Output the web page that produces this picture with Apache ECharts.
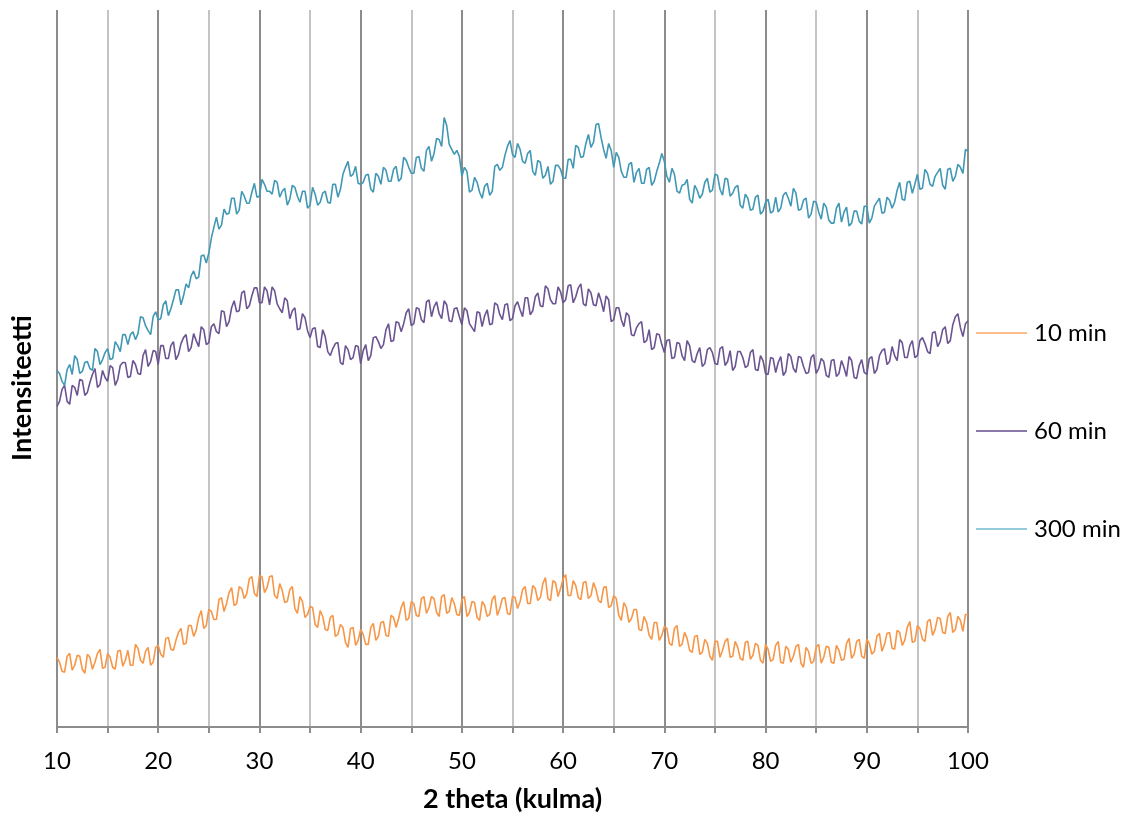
<!DOCTYPE html>
<html>
<head>
<meta charset="utf-8">
<script src="https://cdn.jsdelivr.net/npm/echarts@6/dist/echarts.min.js"></script>
<style>
  html, body { margin: 0; padding: 0; background: #fff; }
  #chart { width: 1131px; height: 818px; }
</style>
</head>
<body>
<div id="chart"></div>
<script>
// 2 theta sampled every 0.25 degrees from 10 to 100
var angleStart = 10
var angleStep = 0.25

var seriesNames = ['10 min', '60 min', '300 min']

var min10 = [
  70, 65, 56, 55, 71, 74, 57, 62, 72, 71, 58, 54, 73, 70, 58, 65, 74, 78, 59, 60, 74, 70, 60, 58, 76, 77, 61, 67, 77, 62, 62, 83, 79, 67, 64, 76, 80, 62, 65, 80,
  82, 73, 70, 89, 90, 78, 77, 87, 95, 99, 83, 84, 102, 102, 91, 97, 110, 117, 99, 102, 118, 116, 108, 108, 128, 130, 116, 124, 135, 140, 122, 124, 141, 139, 129, 134, 149, 151, 134, 131,
  152, 151, 135, 140, 151, 152, 132, 129, 144, 137, 125, 126, 138, 141, 119, 114, 131, 126, 110, 113, 121, 120, 103, 100, 117, 111, 98, 97, 110, 112, 91, 93, 103, 100, 85, 80, 99, 100, 82, 87,
  98, 93, 83, 83, 100, 104, 87, 91, 105, 106, 92, 91, 112, 110, 100, 109, 120, 126, 107, 109, 126, 124, 112, 111, 129, 131, 114, 120, 131, 129, 115, 111, 131, 133, 114, 116, 130, 124, 113, 112,
  128, 131, 111, 115, 126, 125, 110, 107, 126, 122, 111, 113, 128, 132, 112, 119, 129, 130, 114, 113, 131, 130, 119, 126, 138, 141, 124, 124, 142, 139, 127, 130, 144, 150, 129, 127, 147, 145, 131, 139,
  149, 153, 132, 132, 147, 142, 130, 128, 145, 146, 129, 132, 145, 138, 127, 125, 140, 141, 120, 122, 132, 129, 112, 107, 125, 120, 105, 109, 118, 118, 98, 97, 111, 105, 92, 88, 105, 105, 87, 92,
  101, 99, 84, 82, 99, 102, 81, 83, 95, 89, 77, 75, 91, 92, 73, 75, 88, 84, 71, 67, 86, 86, 70, 77, 86, 89, 70, 71, 86, 80, 69, 67, 85, 86, 68, 72, 84, 82, 67, 64,
  83, 78, 66, 68, 82, 86, 65, 64, 81, 78, 65, 71, 81, 83, 64, 60, 80, 76, 64, 66, 80, 83, 64, 70, 81, 80, 65, 64, 82, 77, 67, 68, 84, 89, 69, 73, 86, 88, 71, 69,
  88, 84, 73, 76, 91, 94, 76, 83, 94, 95, 79, 78, 97, 95, 82, 87, 100, 106, 85, 86, 102, 99, 88, 86, 106, 108, 92, 98, 110, 109, 95, 94, 111, 115, 95, 98, 111, 107, 96, 113,
  113
]

var min60 = [
  322, 327, 339, 343, 327, 324, 343, 341, 333, 349, 348, 333, 336, 346, 354, 360, 341, 344, 358, 351, 347, 363, 361, 343, 349, 363, 366, 366, 351, 352, 368, 364, 355, 354, 373, 379, 362, 367, 378, 377,
  364, 383, 383, 370, 370, 383, 387, 369, 374, 385, 391, 394, 377, 381, 395, 388, 382, 402, 399, 384, 386, 402, 405, 397, 395, 418, 417, 402, 407, 421, 428, 417, 418, 436, 438, 420, 423, 433, 441, 441,
  426, 426, 442, 438, 424, 442, 438, 425, 420, 416, 431, 428, 410, 418, 421, 399, 400, 415, 411, 398, 391, 400, 401, 382, 381, 399, 392, 377, 373, 380, 385, 386, 366, 364, 383, 379, 369, 371, 383, 382,
  365, 378, 384, 368, 373, 391, 392, 387, 380, 384, 399, 405, 387, 388, 407, 406, 397, 405, 416, 420, 403, 405, 421, 420, 409, 406, 427, 429, 412, 422, 427, 415, 410, 428, 424, 408, 407, 420, 421, 412,
  404, 421, 418, 405, 401, 397, 417, 416, 402, 413, 419, 404, 405, 426, 424, 414, 409, 424, 425, 408, 410, 423, 427, 419, 412, 431, 431, 414, 418, 432, 436, 423, 422, 443, 440, 429, 425, 425, 442, 437,
  426, 429, 443, 444, 426, 432, 441, 445, 425, 423, 440, 436, 424, 423, 436, 428, 417, 433, 429, 407, 409, 421, 421, 409, 402, 416, 413, 394, 393, 401, 405, 407, 386, 388, 399, 379, 381, 395, 394, 384,
  376, 388, 389, 370, 371, 386, 385, 373, 368, 388, 383, 368, 366, 375, 381, 362, 365, 379, 381, 376, 365, 364, 380, 382, 363, 367, 378, 358, 362, 377, 377, 371, 361, 363, 376, 379, 359, 358, 373, 368,
  355, 354, 371, 370, 356, 366, 372, 353, 357, 375, 372, 360, 356, 372, 371, 362, 355, 356, 371, 374, 355, 360, 370, 367, 353, 351, 368, 369, 352, 355, 368, 361, 352, 372, 368, 351, 350, 363, 369, 356,
  354, 370, 372, 355, 359, 373, 378, 380, 364, 367, 382, 373, 368, 389, 386, 371, 371, 383, 388, 371, 373, 388, 391, 385, 377, 375, 396, 397, 382, 387, 399, 402, 385, 388, 404, 412, 415, 401, 392, 405,
  408
]

var min300 = [
  358, 355, 347, 343, 359, 364, 354, 373, 369, 355, 357, 366, 367, 360, 358, 380, 377, 364, 369, 376, 380, 369, 370, 387, 383, 377, 394, 394, 384, 394, 397, 389, 395, 412, 411, 403, 398, 394, 412, 417,
  409, 410, 424, 428, 413, 420, 429, 439, 439, 424, 433, 445, 441, 453, 458, 450, 452, 473, 474, 466, 476, 491, 502, 512, 500, 504, 520, 515, 516, 531, 531, 515, 519, 538, 533, 526, 526, 537, 546, 532,
  533, 550, 545, 538, 538, 535, 549, 547, 532, 538, 541, 524, 530, 544, 542, 533, 527, 538, 538, 521, 524, 542, 535, 524, 527, 536, 538, 527, 526, 545, 545, 532, 540, 555, 562, 568, 553, 555, 563, 546,
  545, 547, 554, 555, 540, 537, 556, 553, 545, 562, 559, 548, 548, 560, 563, 548, 551, 572, 569, 562, 556, 556, 572, 573, 561, 558, 579, 583, 568, 576, 591, 590, 583, 612, 604, 585, 580, 575, 579, 573,
  553, 562, 558, 537, 539, 552, 547, 537, 531, 543, 546, 534, 538, 563, 565, 559, 562, 574, 583, 589, 575, 572, 586, 580, 568, 566, 576, 579, 558, 554, 569, 567, 551, 554, 563, 545, 548, 564, 564, 560,
  551, 551, 570, 570, 561, 584, 582, 572, 573, 586, 595, 582, 587, 605, 606, 592, 580, 571, 586, 579, 562, 577, 572, 558, 552, 552, 565, 567, 547, 557, 561, 546, 546, 560, 562, 544, 548, 558, 566, 576,
  568, 553, 547, 561, 555, 538, 536, 544, 545, 550, 530, 526, 544, 539, 531, 535, 547, 551, 537, 539, 555, 554, 540, 534, 551, 550, 533, 536, 542, 544, 524, 521, 535, 531, 519, 520, 532, 534, 515, 518,
  527, 530, 516, 518, 532, 517, 521, 534, 537, 531, 523, 541, 536, 519, 520, 529, 531, 511, 515, 528, 527, 517, 510, 526, 522, 509, 506, 506, 521, 526, 507, 517, 522, 503, 506, 518, 518, 508, 505, 523,
  523, 506, 511, 523, 527, 531, 516, 517, 532, 529, 521, 527, 539, 547, 530, 529, 547, 548, 536, 545, 555, 540, 541, 560, 556, 545, 543, 553, 557, 561, 544, 540, 560, 561, 548, 553, 565, 562, 556, 580,
  578
]

var lineColors = ['#f79646', '#6b5491', '#4198b4']
var legendColors = ['#fbbf8e', '#8a78aa', '#94cbd8']
var legendTops = [321, 419, 517]

function toPairs(values) {
  return values.map(function (v, i) {
    return [angleStart + i * angleStep, v]
  })
}

var chart = echarts.init(document.getElementById('chart'))
var fontFamily = 'Lato, "Open Sans", sans-serif'

var option = {
  animation: false,
  backgroundColor: '#fff',
  grid: {
    left: 57,
    right: 163,
    top: 10,
    bottom: 88
  },
  legend: seriesNames.map(function (name, i) {
    return {
      data: [{ name: name, itemStyle: { color: legendColors[i] } }],
      left: 976,
      top: legendTops[i],
      padding: 0,
      icon: 'rect',
      itemWidth: 51,
      itemHeight: 2,
      itemGap: 0,
      textStyle: { fontFamily: fontFamily, fontSize: 24, color: '#000', padding: [0, 0, 0, 2] }
    }
  }),
  xAxis: {
    type: 'value',
    min: 10,
    max: 100,
    interval: 5,
    name: '2 theta (kulma)',
    nameLocation: 'middle',
    nameGap: 59,
    nameTextStyle: { fontFamily: fontFamily, fontSize: 27, fontWeight: 'bold', color: '#000' },
    axisLine: { lineStyle: { color: '#8c8c8c', width: 2 } },
    axisTick: { length: 6, lineStyle: { color: '#8c8c8c', width: 2 } },
    axisLabel: {
      margin: 22,
      fontFamily: fontFamily,
      fontSize: 24,
      color: '#000',
      formatter: function (v) { return v % 10 === 0 ? String(v) : '' }
    },
    splitLine: { lineStyle: { color: ['#8c8c8c', '#c4c4c4'], width: 2 } }
  },
  yAxis: {
    type: 'value',
    min: 0,
    max: 720,
    show: false
  },
  graphic: [{
    type: 'text',
    x: 22,
    y: 388,
    rotation: Math.PI / 2,
    style: {
      text: 'Intensiteetti',
      fontFamily: fontFamily,
      fontSize: 27,
      fontWeight: 'bold',
      fill: '#000',
      align: 'center',
      verticalAlign: 'middle'
    }
  }],
  series: [min10, min60, min300].map(function (values, i) {
    return {
      name: seriesNames[i],
      type: 'line',
      data: toPairs(values),
      showSymbol: false,
      symbol: 'none',
      sampling: null,
      lineStyle: { color: lineColors[i], width: 1.6 },
      itemStyle: { color: lineColors[i] }
    }
  })
}

chart.setOption(option)
</script>
</body>
</html>
